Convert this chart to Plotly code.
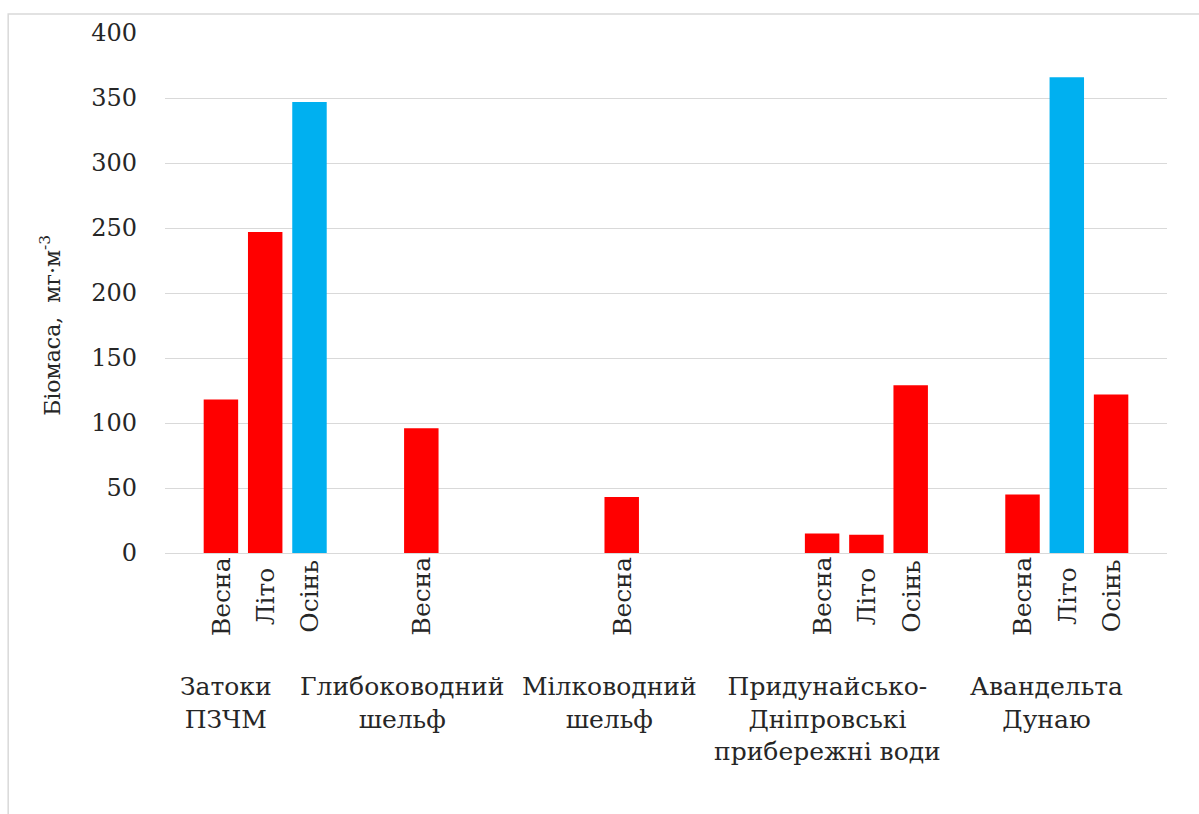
import plotly.graph_objects as go

# Біомаса по районах і сезонах, мг·м-3
regions = ["Затоки<br>ПЗЧМ", "Глибоководний<br>шельф", "Мілководний<br>шельф",
           "Придунайсько-<br>Дніпровські<br>прибережні води", "Авандельта<br>Дунаю"]
seasons = ["Весна", "Літо", "Осінь"]
spring = [118, 96, 43, 15, 45]
summer = [247, None, None, 14, 366]
autumn = [347, None, None, 129, 122]
# (region index, season index) of bars drawn in blue
highlighted = [(0, 2), (4, 1)]

RED = "#FF0000"
BLUE = "#00B0F0"
FONT = "DejaVu Serif"
TXT = "#262626"

slot = 0.221      # spacing between season bars inside a region
bar_w = 0.172
# horizontal shift of each region caption relative to its group centre
label_shift = [-0.198, -0.316, -0.283, -0.196, -0.103]

fig = go.Figure()
series = [spring, summer, autumn]
annotations = []
for s, vals in enumerate(series):
    xs, ys, cols = [], [], []
    for i, v in enumerate(vals):
        if v is None:
            continue
        x = i + (s - 1) * slot
        xs.append(x)
        ys.append(v)
        cols.append(BLUE if (i, s) in highlighted else RED)
        annotations.append(dict(
            x=x, xref="x", y=-0.083, yref="paper", text=seasons[s],
            textangle=-90, showarrow=False, xanchor="center", yanchor="middle",
            font=dict(family=FONT, size=25, color=TXT)))
    fig.add_trace(go.Bar(x=xs, y=ys, width=bar_w, marker=dict(color=cols, line=dict(width=0)),
                         name=seasons[s], showlegend=False))

for i, name in enumerate(regions):
    annotations.append(dict(
        x=i + label_shift[i], xref="x", y=-0.225, yref="paper", text=name,
        showarrow=False, xanchor="center", yanchor="top", align="center",
        font=dict(family=FONT, size=25, color=TXT)))

annotations.append(dict(
    x=-0.1147, xref="paper", y=0.437, yref="paper",
    text="Біомаса,  мг·м<sup>-3</sup>", textangle=-90, showarrow=False,
    xanchor="center", yanchor="middle", font=dict(family=FONT, size=22, color=TXT)))

fig.update_layout(
    width=1199, height=814,
    margin=dict(l=165, r=32, t=33, b=261),
    paper_bgcolor="white", plot_bgcolor="white",
    barmode="overlay",
    annotations=annotations,
    shapes=[dict(type="rect", xref="paper", yref="paper",
                 x0=-0.1565, x1=1.05, y0=-0.55, y1=1.0366,
                 line=dict(color="#D9D9D9", width=1.5), layer="below")],
    xaxis=dict(range=[-0.5, 4.5], showticklabels=False, showgrid=False, zeroline=False,
               showline=True, linecolor="#D9D9D9", linewidth=1, ticks=""),
    yaxis=dict(range=[0, 400], dtick=50, showgrid=True, gridcolor="#D9D9D9", gridwidth=1,
               zeroline=False, showline=False, ticks="", ticklabelstandoff=27,
               tickfont=dict(family=FONT, size=24, color=TXT)),
)

fig.write_html("out.html")
